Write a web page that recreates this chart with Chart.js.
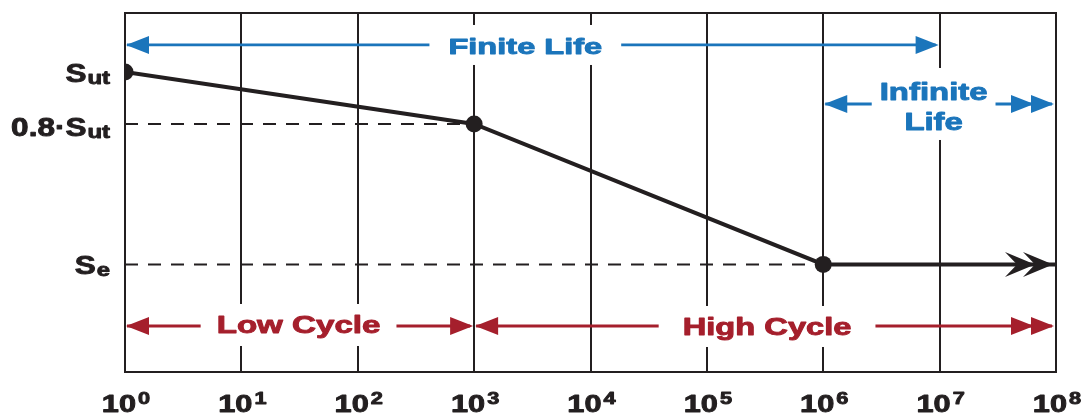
<!DOCTYPE html>
<html><head><meta charset="utf-8">
<script src="https://cdn.jsdelivr.net/npm/chart.js@4.4.0/dist/chart.umd.min.js"></script>
<style>html,body{margin:0;padding:0;background:#fff;overflow:hidden}</style>
</head><body>
<canvas id="c" width="1086" height="417"></canvas>
<script>
// ---- data ----
const decadeExponents = [0, 1, 2, 3, 4, 5, 6, 7, 8];
const curveCycles = [1, 1e3, 1e6, 1e8];
const curveStress = [1.0, 0.8, 0.26, 0.26];
const curveMarkers = [true, true, true, false];
const stressLabelMain = ['S', '0.8·S', 'S'];
const stressLabelSub = ['ut', 'ut', 'e'];
const stressLabelValues = [1.0, 0.8, 0.26];
const dashedEndCycles = [1e3, 1e6];
const dashedStress = [0.8, 0.26];
const regionLabels = ['Finite Life', 'Infinite|Life', 'Low Cycle', 'High Cycle'];
const regionFrom = [1, 1e6, 1, 1e3];
const regionTo = [1e7, 1e8, 1e3, 1e8];
const regionLevel = [1.104, 0.877, 0.023, 0.023];
const regionGroup = ['life', 'life', 'cycle', 'cycle'];
const regionDoubleEnd = [false, true, false, true];

// ---- styles ----
const INK = '#231f20';
const GROUP_COLOR = { life: '#1b75bb', cycle: '#a51f2c' };
const FONT = '"Liberation Sans", Arial, sans-serif';
const REGION_STYLE = [
  { size: 22, sx: 1.48, dx: -7, padX: 19, padTop: 20, padBot: 20, dy: 1.5 },
  { size: 23, sx: 1.43, dx: -6, padX: 8, padTop: 36, padBot: 36, dy: 3 },
  { size: 23, sx: 1.44, dx: -1, padX: 16, padTop: 22, padBot: 20, dy: -1 },
  { size: 23, sx: 1.42, dx: 2, padX: 24, padTop: 20, padBot: 21, dy: 1 }
];

function stretchedText(ctx, text, x, y, size, sx, align, bold) {
  ctx.save();
  ctx.font = 'bold ' + size + 'px ' + FONT;
  ctx.textAlign = align || 'center';
  ctx.textBaseline = 'alphabetic';
  ctx.translate(x, y);
  ctx.scale(sx, 1);
  ctx.fillText(text, 0, 0);
  ctx.strokeStyle = ctx.fillStyle;
  ctx.lineWidth = bold || 0.9;
  ctx.lineJoin = 'round';
  ctx.strokeText(text, 0, 0);
  ctx.restore();
}
function textW(ctx, text, size, sx) {
  ctx.save();
  ctx.font = 'bold ' + size + 'px ' + FONT;
  const w = ctx.measureText(text).width * sx;
  ctx.restore();
  return w;
}
function head(ctx, x, y, dir, color) {
  const L = 23, H = 9;
  ctx.fillStyle = color;
  ctx.beginPath();
  ctx.moveTo(x, y);
  ctx.lineTo(x - dir * L, y - H);
  ctx.lineTo(x - dir * L, y + H);
  ctx.closePath();
  ctx.fill();
}
function chevron(ctx, x, y) {
  const L = 30, H = 12.5, N = 12;
  ctx.fillStyle = INK;
  ctx.beginPath();
  ctx.moveTo(x, y);
  ctx.lineTo(x - L, y - H);
  ctx.lineTo(x - L + N, y);
  ctx.lineTo(x - L, y + H);
  ctx.closePath();
  ctx.fill();
}

const annotate = {
  id: 'annotate',
  beforeDatasetsDraw(chart) {
    const { ctx, chartArea: a } = chart;
    ctx.save();
    ctx.strokeStyle = INK;
    ctx.lineWidth = 2;
    ctx.strokeRect(a.left, a.top, a.right - a.left, a.bottom - a.top);
    ctx.restore();
  },
  afterDatasetsDraw(chart) {
    const { ctx } = chart;
    const xs = chart.scales.x, ys = chart.scales.y;
    ctx.save();
    regionLabels.forEach((lab, i) => {
      const st = REGION_STYLE[i];
      const color = GROUP_COLOR[regionGroup[i]];
      const x0 = xs.getPixelForValue(regionFrom[i]);
      const x1 = xs.getPixelForValue(regionTo[i]);
      const y = ys.getPixelForValue(regionLevel[i]);
      const cx = (x0 + x1) / 2 + st.dx;
      const lines = lab.split('|');
      const w = Math.max(...lines.map(l => textW(ctx, l, st.size, st.sx)));
      const bl = cx - w / 2 - st.padX, br = cx + w / 2 + st.padX;
      ctx.fillStyle = '#fff';
      ctx.fillRect(bl, y - st.padTop, br - bl, st.padTop + st.padBot);
      ctx.strokeStyle = color;
      ctx.lineWidth = 2.8;
      ctx.beginPath();
      ctx.moveTo(x0 + 2, y); ctx.lineTo(bl, y);
      ctx.moveTo(br, y); ctx.lineTo(x1 - 4, y);
      ctx.stroke();
      head(ctx, x0 + 1, y, -1, color);
      const tipR = regionTo[i] === 1e8 ? x1 - 2 : x1 - 1;
      head(ctx, tipR, y, 1, color);
      if (regionDoubleEnd[i]) head(ctx, tipR - 20, y, 1, color);
      ctx.fillStyle = color;
      const cap = st.size * 0.716;
      if (lines.length === 1) {
        stretchedText(ctx, lines[0], cx, y + cap / 2 + st.dy, st.size, st.sx);
      } else {
        stretchedText(ctx, lines[0], cx, y - 12.5 + cap / 2, st.size, st.sx);
        stretchedText(ctx, lines[1], cx, y + 18 + cap / 2, st.size, st.sx);
      }
    });
    const meta = chart.getDatasetMeta(0);
    const last = meta.data[meta.data.length - 1];
    chevron(ctx, last.x - 3, last.y);
    chevron(ctx, last.x - 21, last.y);
    ctx.fillStyle = INK;
    stressLabelValues.forEach((v, i) => {
      const py = ys.getPixelForValue(v);
      const sx = 1.26, main = 25, sub = 19;
      const wm = textW(ctx, stressLabelMain[i], main, sx);
      const ws = textW(ctx, stressLabelSub[i], sub, sx);
      const right = 110;
      const start = right - wm - ws - 1;
      const base = py + 10 + (i === 1 ? 2 : 0);
      stretchedText(ctx, stressLabelMain[i], start, base, main, sx, 'left');
      stretchedText(ctx, stressLabelSub[i], start + wm + 1, base + 1.5, sub, sx, 'left');
    });
    decadeExponents.forEach(e => {
      const px = xs.getPixelForValue(Math.pow(10, e));
      const sx = 1.28;
      const wb = textW(ctx, '10', 24, sx);
      const we = textW(ctx, String(e), 17, sx);
      const start = px - (wb + 2 + we) / 2 + 1;
      stretchedText(ctx, '10', start, 412, 24, sx, 'left');
      stretchedText(ctx, String(e), start + wb + 2, 404, 17, sx, 'left');
    });
    ctx.restore();
  }
};

const curve = curveCycles.map((x, i) => ({ x, y: curveStress[i] }));
const dashed = dashedEndCycles.map((xe, i) => [{ x: 1, y: dashedStress[i] }, { x: xe, y: dashedStress[i] }]);

new Chart(document.getElementById('c'), {
  type: 'scatter',
  data: {
    datasets: [
      { data: curve, showLine: true, borderColor: INK, borderWidth: 4, tension: 0,
        pointRadius: curveMarkers.map(m => (m ? 8.5 : 0)), pointHoverRadius: 0,
        pointBackgroundColor: INK, pointBorderWidth: 0, order: 0 },
      ...dashed.map(d => ({ data: d, showLine: true, borderColor: INK, borderWidth: 2,
        borderDash: [13, 10], pointRadius: 0, order: 1 }))
    ]
  },
  options: {
    responsive: false,
    devicePixelRatio: 1,
    animation: false,
    events: [],
    layout: { padding: { left: 125, right: 30, top: 13, bottom: 45 } },
    plugins: { legend: { display: false }, tooltip: { enabled: false } },
    scales: {
      x: {
        type: 'logarithmic', min: 1, max: 1e8,
        afterBuildTicks: s => { s.ticks = decadeExponents.map(e => ({ value: Math.pow(10, e) })); },
        ticks: { display: false },
        grid: { color: INK, lineWidth: 2, drawTicks: false },
        border: { display: false }
      },
      y: {
        type: 'linear', min: -0.154, max: 1.227,
        ticks: { display: false },
        grid: { display: false, drawTicks: false },
        border: { display: false }
      }
    }
  },
  plugins: [annotate]
});
</script>
</body></html>
